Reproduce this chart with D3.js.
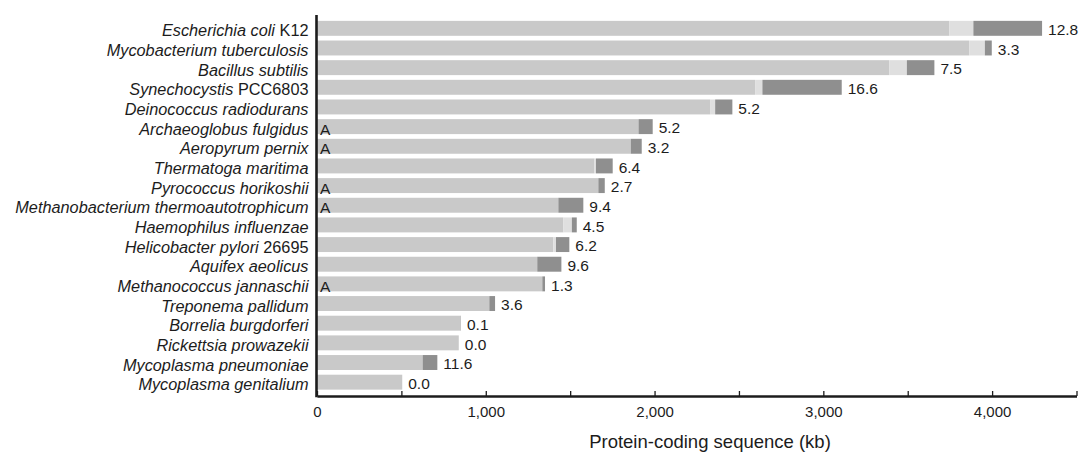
<!DOCTYPE html>
<html>
<head>
<meta charset="utf-8">
<script src="https://cdn.jsdelivr.net/npm/d3@7/dist/d3.min.js"></script>
<style>
  html, body { margin: 0; padding: 0; background: #fff; }
  svg { display: block; font-family: "Liberation Sans", Arial, Helvetica, sans-serif; }
</style>
</head>
<body>
<svg id="chart" width="1082" height="453"></svg>
<script>
// Genomes, top to bottom. Each name is split into an italic part and a plain strain suffix.
const species = [
  "Escherichia coli", "Mycobacterium tuberculosis", "Bacillus subtilis", "Synechocystis",
  "Deinococcus radiodurans", "Archaeoglobus fulgidus", "Aeropyrum pernix", "Thermatoga maritima",
  "Pyrococcus horikoshii", "Methanobacterium thermoautotrophicum", "Haemophilus influenzae",
  "Helicobacter pylori", "Aquifex aeolicus", "Methanococcus jannaschii", "Treponema pallidum",
  "Borrelia burgdorferi", "Rickettsia prowazekii", "Mycoplasma pneumoniae", "Mycoplasma genitalium"
];
const strains = ["K12", "", "", "PCC6803", "", "", "", "", "", "", "", "26695", "", "", "", "", "", "", ""];
// Archaeal genomes are flagged with an "A".
const archaea = [false, false, false, false, false, true, true, false, true, true, false, false, false, true, false, false, false, false, false];

// Protein-coding sequence (kb), split into three stacked parts.
const nativeKb      = [3747, 3864, 3391, 2596, 2329, 1905, 1859, 1643, 1667, 1430, 1460, 1400, 1305, 1335, 1021, 852, 840, 626, 505];
const mobileKb      = [142, 93, 104, 43, 30, 0, 0, 10, 0, 0, 50, 16, 0, 0, 0, 0, 0, 0, 0];
const transferredKb = [407, 41, 163, 470, 102, 84, 65, 99, 38, 148, 29, 79, 143, 16, 34, 1, 0, 87, 0];
// Percentage of horizontally transferred sequence.
const percentLabels = ["12.8", "3.3", "7.5", "16.6", "5.2", "5.2", "3.2", "6.4", "2.7", "9.4", "4.5", "6.2", "9.6", "1.3", "3.6", "0.1", "0.0", "11.6", "0.0"];

const xTicks = [0, 500, 1000, 1500, 2000, 2500, 3000, 3500, 4000, 4500];
const xLabelled = [0, 1000, 2000, 3000, 4000];
const xTitle = "Protein-coding sequence (kb)";

const svg = d3.select("#chart");
const ink = "#1c1c1c";

const x = d3.scaleLinear().domain([0, 4500]).range([317, 1076.5]);
const y = d3.scaleBand().domain(species).range([18.5, 392]).paddingInner(0.24).paddingOuter(0.12);

const rows = species.map((s, i) => ({
  name: s, strain: strains[i], archaea: archaea[i],
  parts: [
    { x0: 0, x1: nativeKb[i], fill: "#c9c9c9" },
    { x0: nativeKb[i], x1: nativeKb[i] + mobileKb[i], fill: "#dfdfdf" },
    { x0: nativeKb[i] + mobileKb[i], x1: nativeKb[i] + mobileKb[i] + transferredKb[i], fill: "#8f8f8f" }
  ],
  total: nativeKb[i] + mobileKb[i] + transferredKb[i],
  pct: percentLabels[i]
}));

const g = svg.append("g");
const row = g.selectAll("g.row").data(rows).join("g").attr("class", "row");

row.selectAll("rect")
  .data(d => d.parts.filter(p => p.x1 > p.x0).map(p => ({ ...p, name: d.name })))
  .join("rect")
  .attr("x", p => x(p.x0))
  .attr("width", p => x(p.x1) - x(p.x0))
  .attr("y", p => y(p.name))
  .attr("height", y.bandwidth())
  .attr("fill", p => p.fill);

// Percentage labels after each bar
row.append("text")
  .attr("x", d => x(d.total) + 6)
  .attr("y", d => y(d.name) + y.bandwidth() / 2)
  .attr("dy", "0.44em")
  .attr("font-size", 15.5)
  .attr("fill", ink)
  .text(d => d.pct);

// Archaea markers
row.filter(d => d.archaea).append("text")
  .attr("x", x(0) + 3)
  .attr("y", d => y(d.name) + y.bandwidth() / 2)
  .attr("dy", "0.52em")
  .attr("font-size", 15.5)
  .attr("fill", ink)
  .text("A");

// Species names
const names = row.append("text")
  .attr("x", 308.5)
  .attr("y", d => y(d.name) + y.bandwidth() / 2)
  .attr("dy", "0.5em")
  .attr("text-anchor", "end")
  .attr("font-size", 16.3)
  .attr("fill", ink);
names.append("tspan").attr("font-style", "italic").text(d => d.name);
names.filter(d => d.strain).append("tspan").text(d => " " + d.strain);

// Bottom axis with short upward ticks
const xAxis = d3.axisBottom(x)
  .tickValues(xTicks)
  .tickSizeInner(-5)
  .tickSizeOuter(0)
  .tickPadding(10)
  .tickFormat(v => xLabelled.includes(v) ? d3.format(",")(v) : "");

const axisG = svg.append("g")
  .attr("transform", "translate(0,396)")
  .call(xAxis);
axisG.select(".domain").attr("stroke", ink).attr("stroke-width", 2.6);
axisG.selectAll(".tick line").attr("stroke", ink).attr("stroke-width", 1.3);
axisG.selectAll(".tick text").attr("font-size", 15).attr("fill", ink)
  .attr("font-family", "\"Liberation Sans\", Arial, sans-serif");

// Left vertical axis line
svg.append("line")
  .attr("x1", x(0) - 0.5).attr("x2", x(0) - 0.5)
  .attr("y1", 15).attr("y2", 397.3)
  .attr("stroke", ink).attr("stroke-width", 2.6);

// Axis title
svg.append("text")
  .attr("x", 710)
  .attr("y", 448)
  .attr("text-anchor", "middle")
  .attr("font-size", 18.5)
  .attr("fill", ink)
  .text(xTitle);
</script>
</body>
</html>
